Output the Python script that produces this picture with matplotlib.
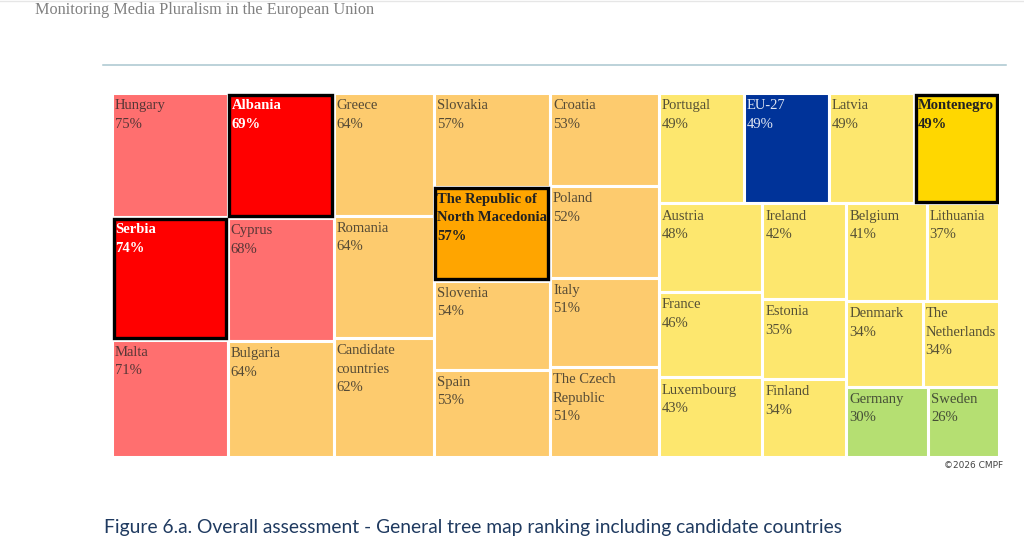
import matplotlib
matplotlib.use("Agg")
import matplotlib.pyplot as plt
from matplotlib.patches import Rectangle
from matplotlib.lines import Line2D

# ---------------- data ----------------
countries = ["Hungary", "Serbia", "Malta", "Albania", "Cyprus", "Bulgaria",
             "Greece", "Romania", "Candidate\ncountries",
             "Slovakia", "The Republic of\nNorth Macedonia", "Slovenia", "Spain",
             "Croatia", "Poland", "Italy", "The Czech\nRepublic",
             "Portugal", "EU-27", "Latvia", "Montenegro",
             "Austria", "France", "Luxembourg",
             "Ireland", "Estonia", "Finland",
             "Belgium", "Lithuania", "Denmark", "The\nNetherlands",
             "Germany", "Sweden"]
scores = [75, 74, 71, 69, 68, 64,
          64, 64, 62,
          57, 57, 54, 53,
          53, 52, 51, 51,
          49, 49, 49, 49,
          48, 46, 43,
          42, 35, 34,
          41, 37, 34, 34,
          30, 26]
candidates = ["Serbia", "Albania", "The Republic of\nNorth Macedonia", "Montenegro"]
average_label = "EU-27"

# tree structure of the map (h = side by side, v = stacked)
tree = ("h", [
    ("v", ["Hungary", "Serbia", "Malta"]),
    ("v", ["Albania", "Cyprus", "Bulgaria"]),
    ("v", ["Greece", "Romania", "Candidate\ncountries"]),
    ("v", ["Slovakia", "The Republic of\nNorth Macedonia", "Slovenia", "Spain"]),
    ("v", ["Croatia", "Poland", "Italy", "The Czech\nRepublic"]),
    ("v", [
        ("h", ["Portugal", "EU-27", "Latvia", "Montenegro"]),
        ("h", [
            ("v", ["Austria", "France", "Luxembourg"]),
            ("v", ["Ireland", "Estonia", "Finland"]),
            ("v", [("h", ["Belgium", "Lithuania"]),
                   ("h", ["Denmark", "The\nNetherlands"]),
                   ("h", ["Germany", "Sweden"])]),
        ]),
    ]),
])

value_of = dict(zip(countries, scores))


def total(node):
    if isinstance(node, str):
        return value_of[node]
    return sum(total(c) for c in node[1])


def layout(node, x, y, w, h, out):
    if isinstance(node, str):
        out.append((node, x, y, w, h))
        return
    kind, children = node
    s = total(node)
    pos = 0.0
    for c in children:
        f = total(c) / s
        if kind == "h":
            layout(c, x + pos * w, y, f * w, h, out)
        else:
            layout(c, x, y + pos * h, w, f * h, out)
        pos += f


def fill_colour(name, v):
    if name == average_label:
        return "#003399"
    if name in candidates:
        if v >= 66:
            return "#FF0000"
        if v >= 50:
            return "#FFA500"
        return "#FFD700"
    if v >= 66:
        return "#FF6F6F"
    if v >= 50:
        return "#FDCB6E"
    if v >= 33:
        return "#FDE76E"
    return "#B5DF72"


# ---------------- figure ----------------
W, H = 1024, 544
fig = plt.figure(figsize=(W / 100, H / 100), dpi=100)
fig.patch.set_facecolor("white")

ax = fig.add_axes([112 / W, 1 - 457 / H, 887 / W, 364 / H])
ax.set_xlim(0, 1)
ax.set_ylim(1, 0)
ax.axis("off")

rects = []
layout(tree, 0, 0, 1, 1, rects)

FS = 10.5
LS = 1.55
YOFF = -4.4
for name, x, y, w, h in rects:
    v = value_of[name]
    col = fill_colour(name, v)
    ax.add_patch(Rectangle((x, y), w, h, facecolor=col, edgecolor="white",
                           linewidth=2.2, zorder=1))
    if name in candidates:
        dx = 1.6 / 887
        dy = 1.6 / 364
        ax.add_patch(Rectangle((x + dx, y + dy), w - 2 * dx, h - 2 * dy,
                               facecolor="none", edgecolor="black",
                               linewidth=2.4, zorder=3))
        tcol = "white" if v >= 66 else "#222222"
        ax.annotate(f"{name}\n{v}%", (x, y), xytext=(2.6, YOFF),
                    textcoords="offset points", ha="left", va="top",
                    fontsize=FS, fontweight="bold", family="Liberation Serif",
                    color=tcol, linespacing=LS, zorder=4)
    elif name == average_label:
        ax.annotate(f"{name}\n{v}%", (x, y), xytext=(2.2, YOFF),
                    textcoords="offset points", ha="left", va="top",
                    fontsize=FS, family="Liberation Serif",
                    color="white", alpha=0.88, linespacing=LS, zorder=4)
    else:
        ax.annotate(f"{name}\n{v}%", (x, y), xytext=(2.2, YOFF),
                    textcoords="offset points", ha="left", va="top",
                    fontsize=FS, family="Liberation Serif",
                    color="#262626", alpha=0.78, linespacing=LS, zorder=4)

# ---------------- page decoration ----------------
fig.add_artist(Line2D([0, 1], [1 - 0.8 / H, 1 - 0.8 / H], color="#e6e6e6",
                      linewidth=1, transform=fig.transFigure))
fig.text(35 / W, 1 - 10 / H, "Monitoring Media Pluralism in the European Union",
         ha="left", va="center", fontsize=11.7, family="Liberation Serif",
         color="#808080")
fig.add_artist(Line2D([103 / W, 1006 / W], [1 - 65 / H, 1 - 65 / H],
                      color="#a9c6cf", linewidth=1.1, transform=fig.transFigure))
fig.text(1003 / W, 1 - 466 / H, "©2026 CMPF", ha="right", va="center",
         fontsize=6.5, family="DejaVu Sans", color="#444444")
fig.text(104 / W, 1 - 527 / H,
         "Figure 6.a. Overall assessment - General tree map ranking including candidate countries",
         ha="left", va="center", fontsize=13.9, family="Lato", color="#1f3a60")

fig.savefig("out.png", dpi=100, facecolor="white")
